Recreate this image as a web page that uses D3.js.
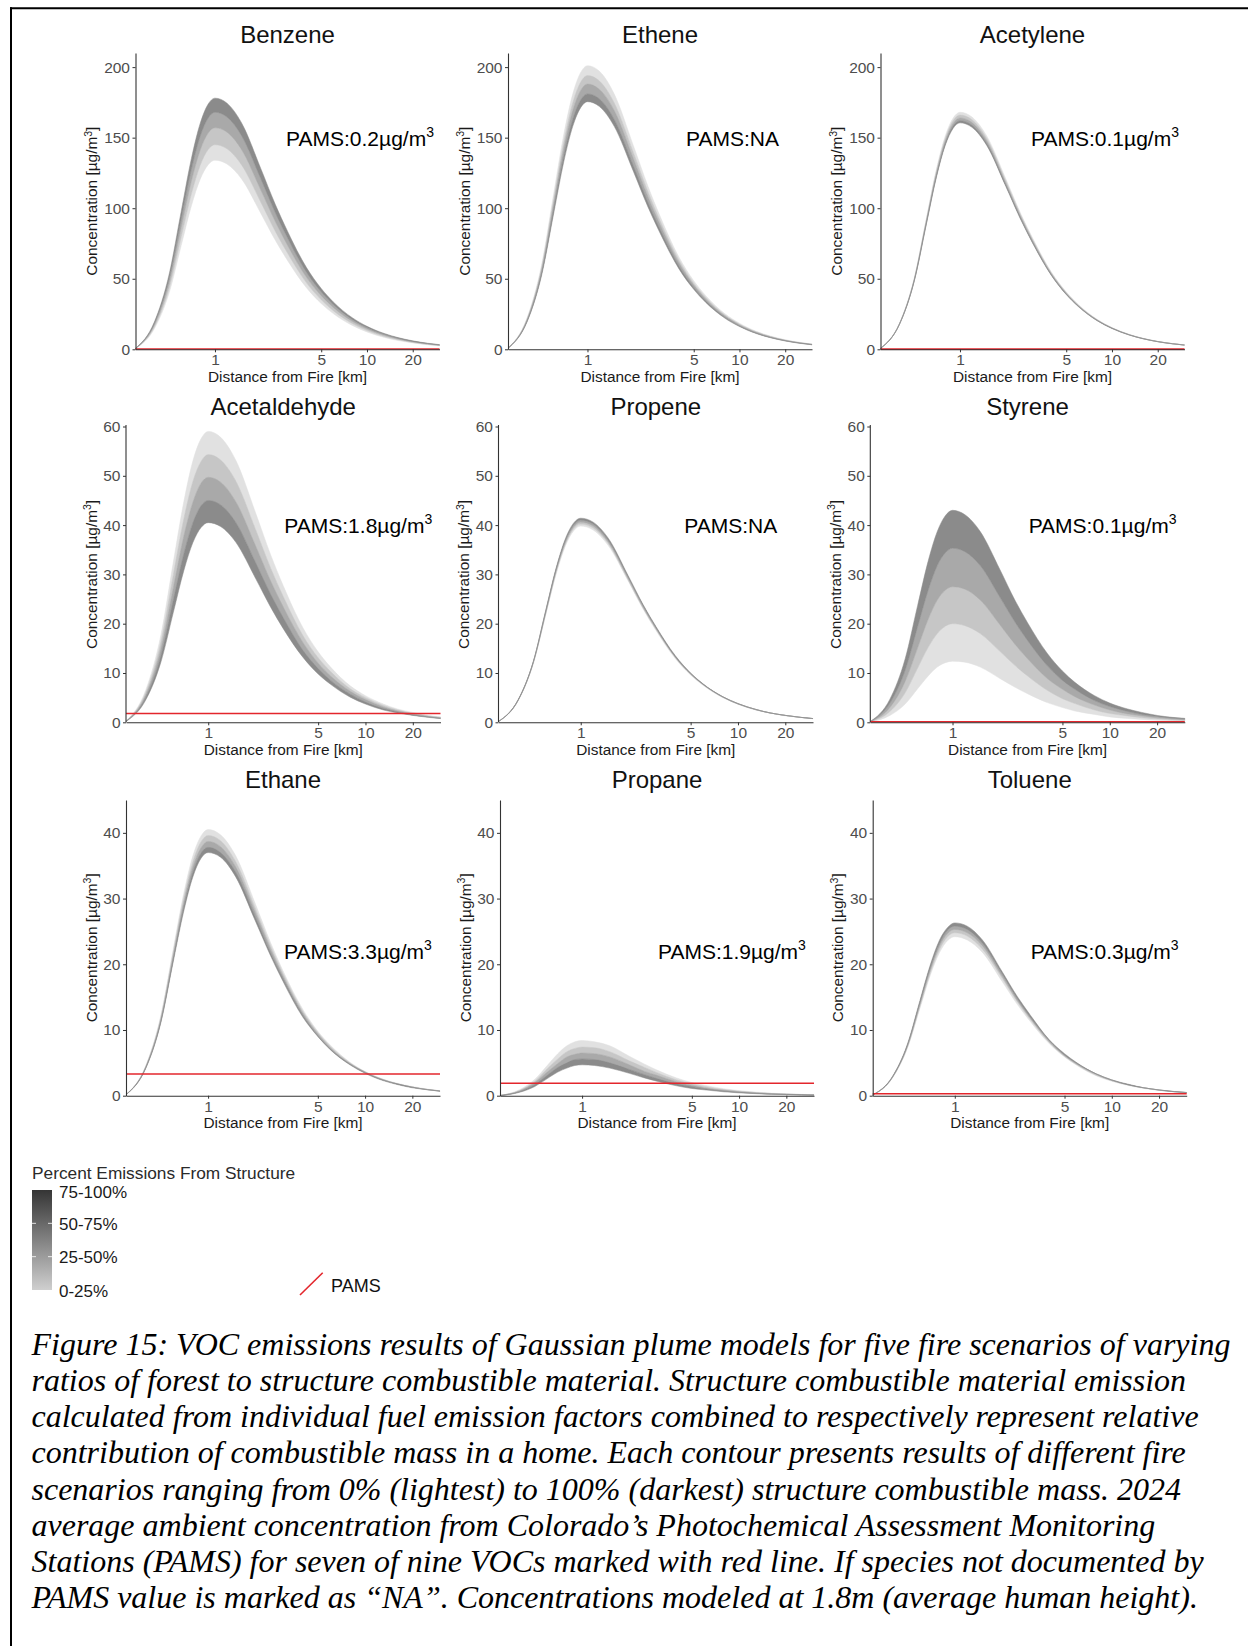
<!DOCTYPE html>
<html><head><meta charset="utf-8">
<script src="https://cdn.jsdelivr.net/npm/d3@7"></script>
<style>body{margin:0;background:#fff}svg{display:block}</style>
</head><body>
<svg id="fig" width="1248" height="1646"></svg>
<script>
// Downwind distance (km) at which concentrations are sampled
const distances = [0.3,0.4,0.5,0.6,0.7,0.8,0.9,1.0,1.2,1.5,2,2.5,3,4,5,6,8,10,13,16,20,25,30];

const speciesNames = ["Benzene","Ethene","Acetylene","Acetaldehyde","Propene","Styrene","Ethane","Propane","Toluene"];
const pamsValues = [0.2, null, 0.1, 1.8, null, 0.1, 3.3, 1.9, 0.3];
const pamsLabels = ["0.2","NA","0.1","1.8","NA","0.1","3.3","1.9","0.3"];

// Concentrations (µg/m³); each block holds the 0%, 25%, 50%, 75%, 100% structure scenarios
const benzene = [
 [0.5,14.7,40.2,73.7,101.8,120.6,130.7,134,131.3,120.6,96.5,77.1,63.0,43.6,32.4,25.3,16.9,12.3,8.4,6.2,4.5,3.2,2.5],
 [0.6,16.0,43.5,79.8,110.2,130.5,141.4,145,142.1,130.5,104.4,83.4,68.2,47.1,35.1,27.4,18.3,13.3,9.1,6.8,4.9,3.5,2.7],
 [0.6,17.3,47.1,86.4,119.3,141.3,153.1,157,153.9,141.3,113.0,90.3,73.8,51.0,38.0,29.7,19.8,14.4,9.9,7.3,5.3,3.8,2.9],
 [0.7,18.5,50.4,92.4,127.7,151.2,163.8,168,164.6,151.2,121.0,96.6,79.0,54.6,40.7,31.8,21.2,15.4,10.6,7.8,5.6,4.1,3.1],
 [0.7,19.6,53.4,97.9,135.3,160.2,173.6,178,174.4,160.2,128.2,102.4,83.7,57.9,43.1,33.6,22.4,16.3,11.2,8.3,6.0,4.3,3.3]
];
const ethene = [
 [0.8,22.1,60.3,110.6,152.8,180.9,196.0,201,197.0,180.9,144.7,115.6,94.5,65.3,48.6,38.0,25.3,18.5,12.6,9.4,6.8,4.9,3.7],
 [0.8,21.3,58.2,106.7,147.4,174.6,189.2,194,190.1,174.6,139.7,111.6,91.2,63.1,46.9,36.7,24.4,17.8,12.2,9.0,6.5,4.7,3.6],
 [0.8,20.7,56.4,103.4,142.9,169.2,183.3,188,184.2,169.2,135.4,108.1,88.4,61.1,45.5,35.5,23.7,17.3,11.8,8.8,6.3,4.5,3.5],
 [0.7,19.9,54.3,99.6,137.6,162.9,176.5,181,177.4,162.9,130.3,104.1,85.1,58.8,43.8,34.2,22.8,16.6,11.4,8.4,6.1,4.4,3.3],
 [0.7,19.3,52.7,96.5,133.4,158.0,171.1,175.5,172.0,158.0,126.4,100.9,82.5,57.0,42.5,33.2,22.1,16.1,11.0,8.2,5.9,4.2,3.2]
];
const acetylene = [
 [0.7,18.5,50.4,92.4,127.7,151.2,163.8,168,164.6,151.2,121.0,96.6,79.0,54.6,40.7,31.8,21.2,15.4,10.6,7.8,5.6,4.1,3.1],
 [0.7,18.3,49.8,91.3,126.2,149.4,161.9,166,162.7,149.4,119.5,95.5,78.0,54.0,40.2,31.4,20.9,15.2,10.4,7.7,5.6,4.0,3.1],
 [0.7,18.0,49.2,90.2,124.6,147.6,159.9,164,160.7,147.6,118.1,94.3,77.1,53.3,39.7,31.0,20.7,15.1,10.3,7.6,5.5,4.0,3.0],
 [0.6,17.8,48.6,89.1,123.1,145.8,158.0,162,158.8,145.8,116.6,93.2,76.1,52.7,39.2,30.6,20.4,14.9,10.2,7.5,5.4,3.9,3.0],
 [0.6,17.7,48.2,88.3,122.0,144.5,156.5,160.5,157.3,144.5,115.6,92.3,75.4,52.2,38.8,30.3,20.2,14.7,10.1,7.5,5.4,3.9,3.0]
];
const acetaldehyde = [
 [0.24,6.5,17.7,32.5,44.8,53.1,57.5,59,57.8,53.1,42.5,33.9,27.7,19.2,14.3,11.2,7.4,5.4,3.7,2.7,2.0,1.4,1.1],
 [0.22,6.0,16.3,29.9,41.3,48.9,52.9,54.3,53.2,48.9,39.1,31.2,25.5,17.6,13.1,10.3,6.8,5.0,3.4,2.5,1.8,1.3,1.0],
 [0.20,5.5,14.9,27.3,37.8,44.7,48.5,49.7,48.7,44.7,35.8,28.6,23.4,16.2,12.0,9.4,6.3,4.6,3.1,2.3,1.7,1.2,0.9],
 [0.18,5.0,13.5,24.8,34.2,40.5,43.9,45,44.1,40.5,32.4,25.9,21.2,14.6,10.9,8.5,5.7,4.1,2.8,2.1,1.5,1.1,0.8],
 [0.16,4.5,12.2,22.3,30.8,36.5,39.5,40.5,39.7,36.5,29.2,23.3,19.0,13.2,9.8,7.7,5.1,3.7,2.5,1.9,1.4,1.0,0.75]
];
const propene = [
 [0.16,4.4,11.9,21.9,30.2,35.8,38.8,39.8,39.0,35.8,28.7,22.9,18.7,12.9,9.6,7.5,5.0,3.7,2.5,1.9,1.3,1.0,0.74],
 [0.16,4.4,12.1,22.1,30.6,36.2,39.2,40.2,39.4,36.2,28.9,23.1,18.9,13.1,9.7,7.6,5.1,3.7,2.5,1.9,1.4,1.0,0.74],
 [0.16,4.5,12.2,22.3,30.9,36.5,39.6,40.6,39.8,36.5,29.2,23.3,19.1,13.2,9.8,7.7,5.1,3.7,2.6,1.9,1.4,1.0,0.75],
 [0.16,4.5,12.3,22.6,31.2,36.9,40.0,41.0,40.2,36.9,29.5,23.6,19.3,13.3,9.9,7.7,5.2,3.8,2.6,1.9,1.4,1.0,0.76],
 [0.17,4.6,12.4,22.8,31.5,37.3,40.4,41.4,40.6,37.3,29.8,23.8,19.5,13.5,10.0,7.8,5.2,3.8,2.6,1.9,1.4,1.0,0.77]
];
const styrene = [
 [0.05,1.4,3.7,6.8,9.4,11.2,12.1,12.4,12.2,11.2,8.9,7.1,5.8,4.0,3.0,2.3,1.6,1.1,0.78,0.58,0.42,0.30,0.23],
 [0.08,2.2,6.0,11.0,15.2,18.0,19.5,20,19.6,18.0,14.4,11.5,9.4,6.5,4.8,3.8,2.5,1.8,1.3,0.93,0.67,0.48,0.37],
 [0.11,3.0,8.3,15.1,20.9,24.8,26.8,27.5,27.0,24.8,19.8,15.8,12.9,8.9,6.7,5.2,3.5,2.5,1.7,1.3,0.92,0.67,0.51],
 [0.14,3.9,10.6,19.4,26.8,31.8,34.4,35.3,34.6,31.8,25.4,20.3,16.6,11.5,8.5,6.7,4.4,3.2,2.2,1.6,1.2,0.85,0.65],
 [0.17,4.7,12.9,23.7,32.7,38.7,41.9,43,42.1,38.7,31.0,24.7,20.2,14.0,10.4,8.1,5.4,3.9,2.7,2.0,1.4,1.0,0.80]
];
const ethane = [
 [0.16,4.5,12.2,22.3,30.8,36.5,39.5,40.5,39.7,36.5,29.2,23.3,19.0,13.2,9.8,7.7,5.1,3.7,2.5,1.9,1.4,1.0,0.75],
 [0.16,4.4,11.9,21.8,30.1,35.6,38.6,39.6,38.8,35.6,28.5,22.8,18.6,12.9,9.6,7.5,5.0,3.6,2.5,1.8,1.3,0.96,0.73],
 [0.15,4.3,11.6,21.3,29.4,34.8,37.7,38.7,37.9,34.8,27.9,22.3,18.2,12.6,9.4,7.3,4.9,3.6,2.4,1.8,1.3,0.94,0.72],
 [0.15,4.2,11.3,20.8,28.7,34.0,36.9,37.8,37.0,34.0,27.2,21.7,17.8,12.3,9.1,7.1,4.8,3.5,2.4,1.8,1.3,0.91,0.70],
 [0.15,4.1,11.1,20.4,28.1,33.3,36.1,37,36.3,33.3,26.6,21.3,17.4,12.0,9.0,7.0,4.7,3.4,2.3,1.7,1.2,0.90,0.68]
];
const propane = [
 [0.03,0.92,2.5,4.6,6.4,7.6,8.2,8.4,8.2,7.6,6.0,4.8,3.9,2.7,2.0,1.6,1.06,0.77,0.53,0.39,0.28,0.20,0.16],
 [0.03,0.81,2.2,4.1,5.6,6.7,7.2,7.4,7.3,6.7,5.3,4.3,3.5,2.4,1.8,1.4,0.93,0.68,0.47,0.34,0.25,0.18,0.14],
 [0.03,0.72,2.0,3.6,4.9,5.9,6.3,6.5,6.4,5.9,4.7,3.7,3.1,2.1,1.6,1.2,0.82,0.60,0.41,0.30,0.22,0.16,0.12],
 [0.02,0.62,1.7,3.1,4.3,5.0,5.5,5.6,5.5,5.0,4.0,3.2,2.6,1.8,1.4,1.06,0.71,0.51,0.35,0.26,0.19,0.14,0.10],
 [0.02,0.52,1.4,2.6,3.6,4.2,4.6,4.7,4.6,4.2,3.4,2.7,2.2,1.5,1.1,0.89,0.59,0.43,0.30,0.22,0.16,0.11,0.09]
];
const toluene = [
 [0.10,2.7,7.3,13.3,18.4,21.8,23.6,24.2,23.7,21.8,17.4,13.9,11.4,7.9,5.9,4.6,3.0,2.2,1.5,1.1,0.81,0.59,0.45],
 [0.10,2.7,7.4,13.6,18.8,22.3,24.2,24.8,24.3,22.3,17.9,14.3,11.7,8.1,6.0,4.7,3.1,2.3,1.6,1.2,0.83,0.60,0.46],
 [0.10,2.8,7.6,13.9,19.2,22.8,24.7,25.3,24.8,22.8,18.2,14.5,11.9,8.2,6.1,4.8,3.2,2.3,1.6,1.2,0.85,0.61,0.47],
 [0.10,2.8,7.7,14.2,19.6,23.2,25.2,25.8,25.3,23.2,18.6,14.8,12.1,8.4,6.2,4.9,3.3,2.4,1.6,1.2,0.87,0.62,0.48],
 [0.11,2.9,7.9,14.5,20.0,23.7,25.6,26.3,25.8,23.7,18.9,15.1,12.4,8.5,6.4,5.0,3.3,2.4,1.7,1.2,0.88,0.64,0.49]
];
const scenarioSeries = [benzene, ethene, acetylene, acetaldehyde, propene, styrene, ethane, propane, toluene];

const bandLabels = ["0-25%","25-50%","50-75%","75-100%"];
const xTicks = [1, 5, 10, 20];
const rowYMax = [210, 60, 45];
const rowYTicks = [[0,50,100,150,200],[0,10,20,30,40,50,60],[0,10,20,30,40]];
const pamsLabelY = [150, 40, 22];

const captionLines = [
 "Figure 15: VOC emissions results of Gaussian plume models for five fire scenarios of varying",
 "ratios of forest to structure combustible material. Structure combustible material emission",
 "calculated from individual fuel emission factors combined to respectively represent relative",
 "contribution of combustible mass in a home. Each contour presents results of different fire",
 "scenarios ranging from 0% (lightest) to 100% (darkest) structure combustible mass. 2024",
 "average ambient concentration from Colorado\u2019s Photochemical Assessment Monitoring",
 "Stations (PAMS) for seven of nine VOCs marked with red line. If species not documented by",
 "PAMS value is marked as \u201CNA\u201D. Concentrations modeled at 1.8m (average human height)."
];

// ---- layout ----
const bandColors = ["#e1e1e1", "#c6c6c6", "#a9a9a9", "#8b8b8b"];
const pamsColor = "#e3262c";
const sans = "'Liberation Sans', Arial, Helvetica, sans-serif";
const panelLefts = [[135.5, 508, 880.5], [126, 498.5, 870.3], [126, 500, 872.7]];
const panelWidths = [304, 314.5, 314];
const panelTops = [53, 426.5, 800];
const panelBottoms = [349.3, 722.3, 1095.7];
const titleBaselines = [42.5, 415, 788];
const yTitleOffset = [38.5, 29.5, 29.5];

const svg = d3.select("#fig");
svg.append("rect").attr("width", 1248).attr("height", 1646).attr("fill", "#fff");

speciesNames.forEach((name, i) => {
  const r = Math.floor(i / 3), c = i % 3;
  const left = panelLefts[r][c], w = panelWidths[r];
  const top = panelTops[r], bottom = panelBottoms[r];
  const x = d3.scaleLog().domain([0.3, 30]).range([left, left + w]);
  const y = d3.scaleLinear().domain([0, rowYMax[r]]).range([bottom, top]);
  const g = svg.append("g");
  const series = scenarioSeries[i];

  // contour bands between successive scenarios
  for (let k = 0; k < 4; k++) {
    const area = d3.area()
      .x((d, j) => x(distances[j]))
      .y0((d, j) => y(series[k][j]))
      .y1((d, j) => y(series[k + 1][j]))
      .curve(d3.curveMonotoneX);
    g.append("path").attr("d", area(distances))
      .attr("fill", bandColors[k]).attr("stroke", bandColors[k]).attr("stroke-width", 0.5);
  }

  // ambient PAMS level
  if (pamsValues[i] !== null) {
    g.append("line")
      .attr("x1", left).attr("x2", left + w)
      .attr("y1", y(pamsValues[i])).attr("y2", y(pamsValues[i]))
      .attr("stroke", pamsColor).attr("stroke-width", 1.6);
  }

  // axes
  const yAxis = d3.axisLeft(y).tickValues(rowYTicks[r]).tickSize(3).tickSizeOuter(0).tickPadding(2.5);
  const xAxis = d3.axisBottom(x).tickValues(xTicks).tickFormat(d3.format("d")).tickSize(3).tickSizeOuter(0).tickPadding(2);
  const ya = g.append("g").attr("transform", `translate(${left},0)`).call(yAxis);
  const xa = g.append("g").attr("transform", `translate(0,${bottom})`).call(xAxis);
  [ya, xa].forEach(a => {
    a.select(".domain").attr("stroke", "#333").attr("stroke-width", 1.1);
    a.selectAll(".tick line").attr("stroke", "#333").attr("stroke-width", 1);
    a.selectAll(".tick text").attr("fill", "#4d4d4d").attr("font-size", 15.5).attr("font-family", sans);
  });
  if (r === 1) ya.select(".domain").attr("d", `M0,${bottom}V${top - 1.5}`);

  // panel title
  g.append("text").attr("x", left + w / 2).attr("y", titleBaselines[r])
    .attr("text-anchor", "middle").attr("font-family", sans).attr("font-size", 24)
    .attr("fill", "#111").text(name);

  // axis titles
  g.append("text").attr("x", left + w / 2).attr("y", bottom + 32.4)
    .attr("text-anchor", "middle").attr("font-family", sans).attr("font-size", 15.4)
    .attr("fill", "#1a1a1a").text("Distance from Fire [km]");
  const yt = g.append("text")
    .attr("transform", `translate(${left - yTitleOffset[r]},${(top + bottom) / 2}) rotate(-90)`)
    .attr("text-anchor", "middle").attr("font-family", sans).attr("font-size", 15.4).attr("fill", "#1a1a1a");
  yt.append("tspan").text("Concentration [\u00B5g/m");
  yt.append("tspan").attr("font-size", 10.5).attr("dy", -5.5).text("3");
  yt.append("tspan").attr("dy", 5.5).text("]");

  // PAMS annotation
  const pt = g.append("text").attr("x", x(9)).attr("y", y(pamsLabelY[r]) + 8)
    .attr("text-anchor", "middle").attr("font-family", sans).attr("font-size", 21).attr("fill", "#000");
  if (pamsValues[i] === null) {
    pt.text("PAMS:NA");
  } else {
    pt.append("tspan").text("PAMS:" + pamsLabels[i] + "\u00B5g/m");
    pt.append("tspan").attr("font-size", 14).attr("dy", -9).text("3");
  }
});

// ---- legend ----
const leg = svg.append("g");
const grad = svg.append("defs").append("linearGradient").attr("id", "structGrad")
  .attr("x1", 0).attr("y1", 0).attr("x2", 0).attr("y2", 1);
grad.append("stop").attr("offset", "0%").attr("stop-color", "#353535");
grad.append("stop").attr("offset", "100%").attr("stop-color", "#cfcfcf");
leg.append("text").attr("x", 32).attr("y", 1179).attr("font-family", sans).attr("font-size", 17.3)
  .attr("fill", "#2a2a2a").text("Percent Emissions From Structure");
leg.append("rect").attr("x", 32).attr("y", 1190).attr("width", 20).attr("height", 100).attr("fill", "url(#structGrad)");
const legY = d3.scaleLinear().domain([0, 3]).range([1290, 1190]);
bandLabels.forEach((lab, k) => {
  leg.append("text").attr("x", 59).attr("y", legY(k) + (k === 3 ? 7.5 : 6.5)).attr("font-family", sans)
    .attr("font-size", 17).attr("fill", "#1a1a1a").text(lab);
  if (k === 1 || k === 2) {
    leg.append("line").attr("x1", 32).attr("x2", 36).attr("y1", legY(k)).attr("y2", legY(k)).attr("stroke", "#fff").attr("stroke-width", 0.8);
    leg.append("line").attr("x1", 48).attr("x2", 52).attr("y1", legY(k)).attr("y2", legY(k)).attr("stroke", "#fff").attr("stroke-width", 0.8);
  }
});
leg.append("line").attr("x1", 300).attr("y1", 1295).attr("x2", 322.7).attr("y2", 1272.7)
  .attr("stroke", pamsColor).attr("stroke-width", 1.6);
leg.append("text").attr("x", 331).attr("y", 1291.7).attr("font-family", sans).attr("font-size", 18)
  .attr("fill", "#111").text("PAMS");

// ---- caption ----
const cap = svg.append("g");
captionLines.forEach((line, k) => {
  cap.append("text").attr("x", 31.5).attr("y", 1355 + k * 36.15)
    .attr("font-family", "'Liberation Serif', 'Times New Roman', serif").attr("font-style", "italic")
    .attr("font-size", 32).attr("fill", "#000").text(line);
});

// ---- frame ----
svg.append("line").attr("x1", 10).attr("x2", 1248).attr("y1", 8.3).attr("y2", 8.3).attr("stroke", "#000").attr("stroke-width", 2);
svg.append("line").attr("x1", 11).attr("x2", 11).attr("y1", 7.3).attr("y2", 1646).attr("stroke", "#000").attr("stroke-width", 2);
</script>
</body></html>
